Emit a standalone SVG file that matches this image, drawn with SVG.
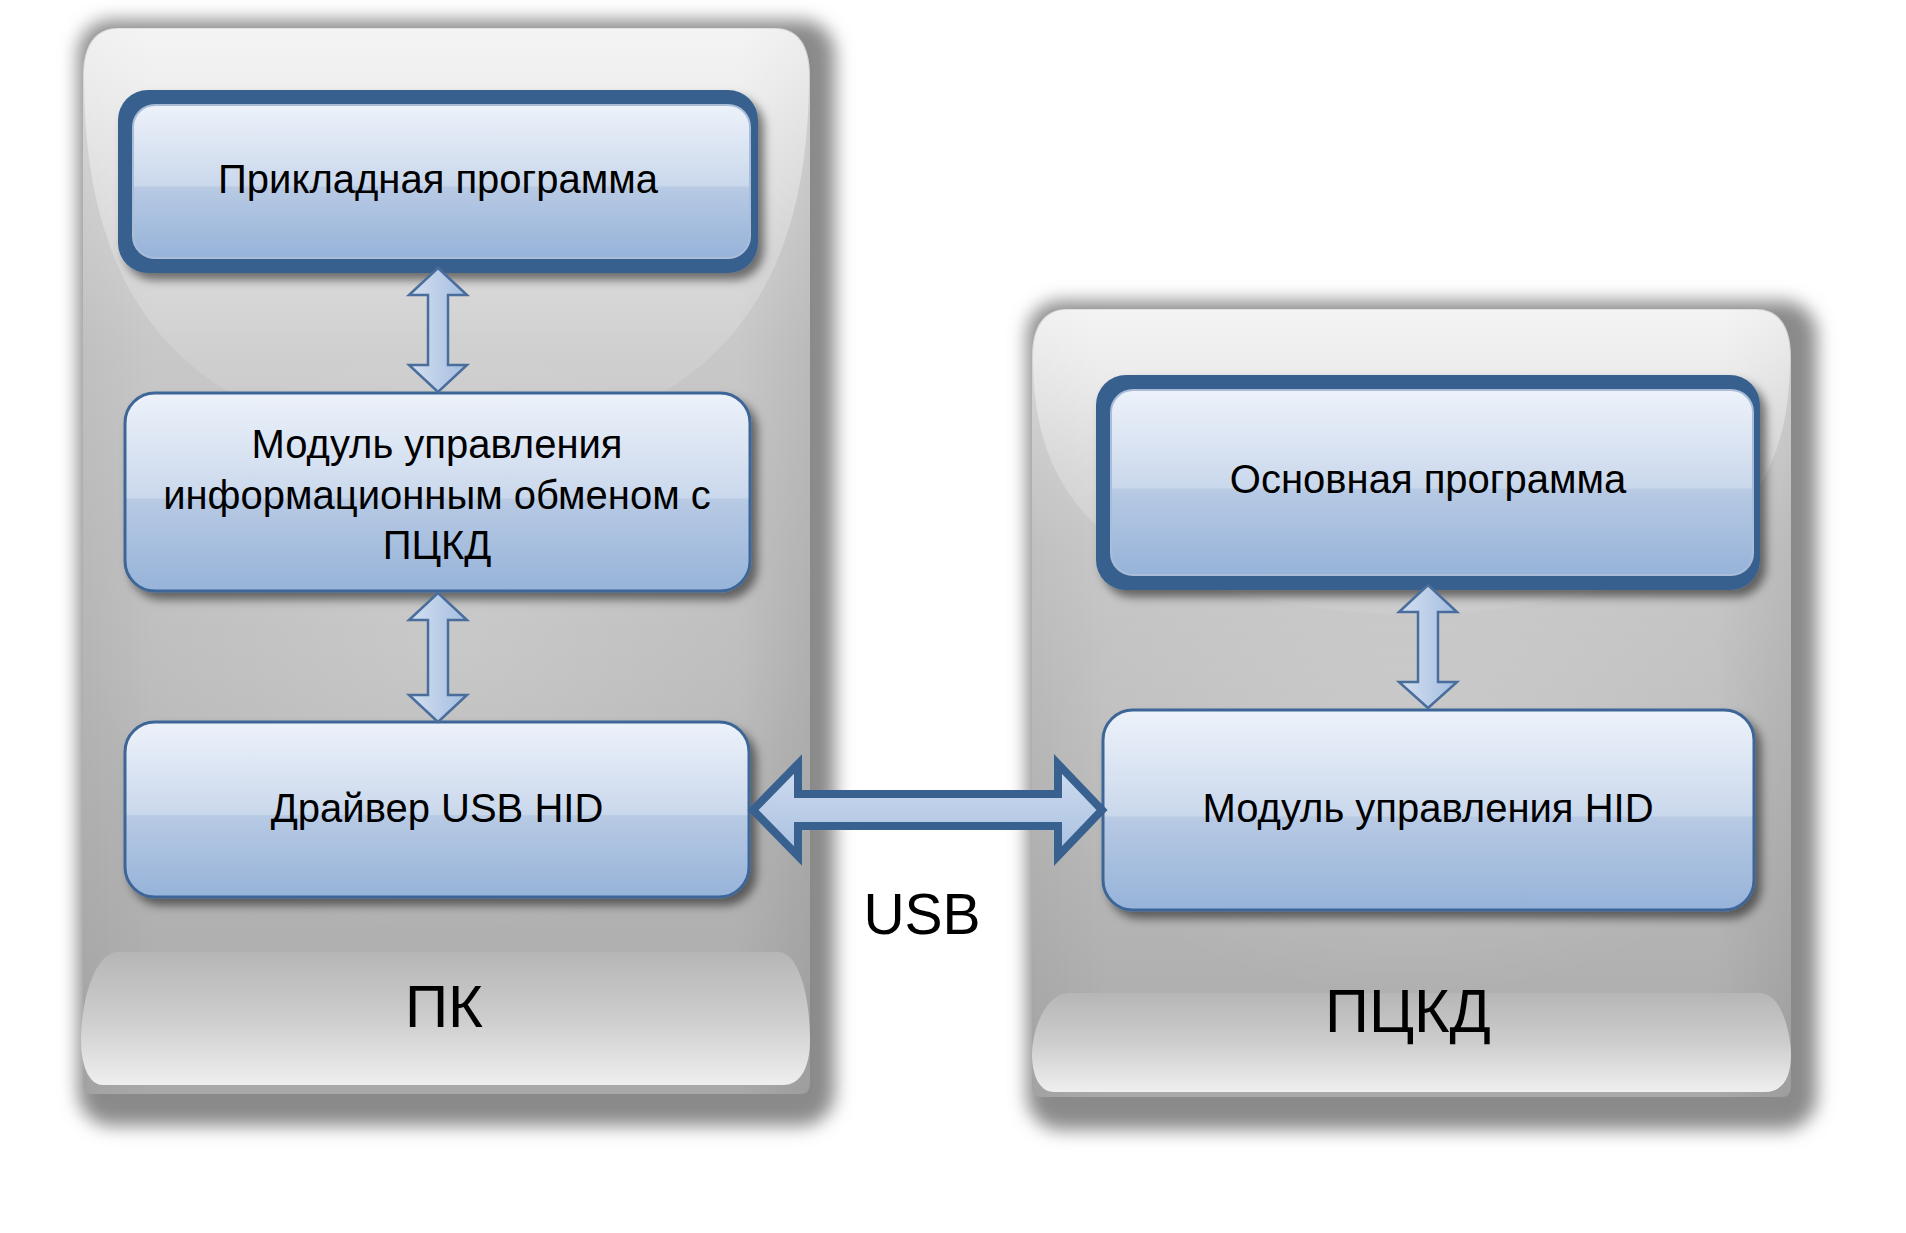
<svg xmlns="http://www.w3.org/2000/svg" width="1906" height="1233" viewBox="0 0 1906 1233">
  <defs>
    <linearGradient id="panelGrad" x1="0" y1="0" x2="0" y2="1">
      <stop offset="0" stop-color="#e4e4e4"/>
      <stop offset="0.3" stop-color="#c8c8c8"/>
      <stop offset="0.6" stop-color="#bcbcbc"/>
      <stop offset="1" stop-color="#a9a9a9"/>
    </linearGradient>
    <linearGradient id="panelSide" x1="0" y1="0" x2="1" y2="0">
      <stop offset="0" stop-color="#000" stop-opacity="0.04"/>
      <stop offset="0.1" stop-color="#000" stop-opacity="0"/>
      <stop offset="0.9" stop-color="#000" stop-opacity="0"/>
      <stop offset="1" stop-color="#000" stop-opacity="0.07"/>
    </linearGradient>
    <linearGradient id="glassGrad" x1="0" y1="0" x2="0" y2="1">
      <stop offset="0" stop-color="#fff" stop-opacity="0.6"/>
      <stop offset="0.5" stop-color="#fff" stop-opacity="0.25"/>
      <stop offset="1" stop-color="#fff" stop-opacity="0.05"/>
    </linearGradient>
    <radialGradient id="glowGrad" cx="0.5" cy="0.5" r="0.5">
      <stop offset="0" stop-color="#fff" stop-opacity="0.18"/>
      <stop offset="1" stop-color="#fff" stop-opacity="0"/>
    </radialGradient>
    <linearGradient id="bandGrad" x1="0" y1="0" x2="0" y2="1">
      <stop offset="0" stop-color="#b6b6b6"/>
      <stop offset="0.5" stop-color="#cdcdcd"/>
      <stop offset="1" stop-color="#efefef"/>
    </linearGradient>
    <linearGradient id="boxGrad" x1="0" y1="0" x2="0" y2="1">
      <stop offset="0" stop-color="#edf2fa"/>
      <stop offset="0.53" stop-color="#cad8ec"/>
      <stop offset="0.535" stop-color="#b8cae4"/>
      <stop offset="1" stop-color="#96b3d9"/>
    </linearGradient>
    <linearGradient id="arrowV" x1="0" y1="0" x2="1" y2="0">
      <stop offset="0" stop-color="#d4e0f1"/>
      <stop offset="1" stop-color="#a4bddf"/>
    </linearGradient>
    <linearGradient id="arrowH" x1="0" y1="0" x2="0" y2="1">
      <stop offset="0" stop-color="#cfdcef"/>
      <stop offset="1" stop-color="#a9c0e0"/>
    </linearGradient>
    <filter id="panelShadow" x="-10%" y="-10%" width="120%" height="120%">
      <feGaussianBlur stdDeviation="9"/>
    </filter>
    <filter id="boxShadow" x="-10%" y="-20%" width="125%" height="150%">
      <feDropShadow dx="6" dy="7" stdDeviation="5" flood-color="#000" flood-opacity="0.5"/>
    </filter>
  </defs>
  <style>
    text { font-family: "Liberation Sans", Arial, sans-serif; fill: #000; text-anchor: middle; }
    .t { font-size: 40px; }
    .lbl { font-size: 60px; }
    .usb { font-size: 57px; }
    .thin { fill: url(#boxGrad); stroke: #3d6697; stroke-width: 3; }
    .thickOuter { fill: #38618f; }
    .thickInner { fill: url(#boxGrad); stroke: #a9bcd8; stroke-width: 2; }
    .varrow { fill: url(#arrowV); stroke: #4a6e9c; stroke-width: 2.5; stroke-linejoin: miter; }
    .harrow { fill: url(#arrowH); stroke: #38618f; stroke-width: 8; stroke-linejoin: miter; }
    .band { fill: url(#bandGrad); }
    .shadow { fill: #8a8a8a; }
  </style>

  <!-- Panel ПК -->
  <g id="panel-pk">
    <rect class="shadow" x="78" y="20" width="757" height="1106" rx="34" filter="url(#panelShadow)"/>
    <path d="M83,76 C83,45 95,28 118,28 L775,28 C798,28 810,45 810,76 L810,1084 Q810,1094 800,1094 L93,1094 Q83,1094 83,1084 Z" fill="url(#panelGrad)"/>
    <path d="M83,76 C83,45 95,28 118,28 L775,28 C798,28 810,45 810,76 L810,1084 Q810,1094 800,1094 L93,1094 Q83,1094 83,1084 Z" fill="url(#panelSide)"/>
    <ellipse cx="446" cy="640" rx="360" ry="300" fill="url(#glowGrad)"/>
    <path d="M84,76 C84,46 96,29 118,29 L775,29 C797,29 809,46 809,76 C809,270 735,435 446,448 C157,435 84,270 84,76 Z" fill="url(#glassGrad)"/>
    <path class="band" d="M118,952 L778,952 C800,952 810,1000 810,1040 C810,1068 800,1085 783,1085 L103,1085 C89,1085 81,1066 81,1040 C81,1000 95,952 118,952 Z"/>
    <text class="lbl" x="444" y="1027">ПК</text>
  </g>

  <!-- Panel ПЦКД -->
  <g id="panel-pckd">
    <rect class="shadow" x="1027" y="301" width="790" height="829" rx="34" filter="url(#panelShadow)"/>
    <path d="M1032,357 C1032,326 1044,309 1067,309 L1756,309 C1779,309 1791,326 1791,357 L1791,1087 Q1791,1097 1781,1097 L1042,1097 Q1032,1097 1032,1087 Z" fill="url(#panelGrad)"/>
    <path d="M1032,357 C1032,326 1044,309 1067,309 L1756,309 C1779,309 1791,326 1791,357 L1791,1087 Q1791,1097 1781,1097 L1042,1097 Q1032,1097 1032,1087 Z" fill="url(#panelSide)"/>
    <ellipse cx="1411" cy="760" rx="370" ry="240" fill="url(#glowGrad)"/>
    <path d="M1033,357 C1033,327 1045,310 1067,310 L1756,310 C1778,310 1790,327 1790,357 C1790,480 1740,605 1411,615 C1085,605 1033,480 1033,357 Z" fill="url(#glassGrad)"/>
    <path class="band" d="M1070,993 L1760,993 C1782,993 1791,1035 1791,1055 C1791,1078 1782,1092 1765,1092 L1054,1092 C1040,1092 1032,1076 1032,1055 C1032,1030 1045,993 1070,993 Z"/>
    <text class="lbl" x="1408" y="1032" style="font-size:61px">ПЦКД</text>
  </g>

  <!-- Nodes -->
  <g id="node-app">
    <rect class="thickOuter" x="118" y="90" width="640" height="183" rx="30" filter="url(#boxShadow)"/>
    <rect class="thickInner" x="133" y="105" width="617" height="153" rx="22"/>
    <text class="t" x="438" y="193">Прикладная программа</text>
  </g>

  <g id="node-exchange">
    <rect class="thin" x="125" y="393" width="625" height="198" rx="30" filter="url(#boxShadow)"/>
    <text class="t" x="437" y="458">Модуль управления</text>
    <text class="t" x="437" y="509">информационным обменом с</text>
    <text class="t" x="437" y="559">ПЦКД</text>
  </g>

  <g id="node-driver">
    <rect class="thin" x="125" y="722" width="624" height="175" rx="30" filter="url(#boxShadow)"/>
    <text class="t" x="437" y="822">Драйвер USB HID</text>
  </g>

  <g id="node-main">
    <rect class="thickOuter" x="1096" y="375" width="664" height="215" rx="30" filter="url(#boxShadow)"/>
    <rect class="thickInner" x="1111" y="390" width="642" height="185" rx="22"/>
    <text class="t" x="1428" y="493">Основная программа</text>
  </g>

  <g id="node-hid">
    <rect class="thin" x="1103" y="710" width="651" height="200" rx="30" filter="url(#boxShadow)"/>
    <text class="t" x="1428" y="822">Модуль управления HID</text>
  </g>

  <!-- Connectors -->
  <g id="connectors">
    <polygon class="varrow" points="438,268 467,295 448,295 448,365 467,365 438,392 409,365 428,365 428,295 409,295"/>
    <polygon class="varrow" points="438,593 467,620 448,620 448,695 467,695 438,722 409,695 428,695 428,620 409,620"/>
    <polygon class="varrow" points="1428,585 1457,612 1438,612 1438,682 1457,682 1428,708 1399,682 1418,682 1418,612 1399,612"/>
    <polygon class="harrow" points="753,810 798,764 798,794 1058,794 1058,764 1102,810 1058,856 1058,826 798,826 798,856"/>
    <text class="usb" x="922" y="934">USB</text>
  </g>
</svg>
